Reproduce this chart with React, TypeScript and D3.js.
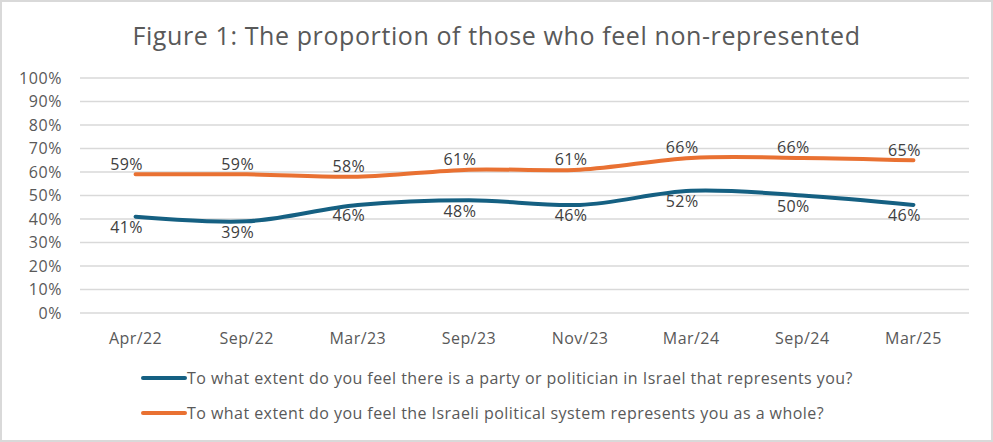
import React, { useRef, useEffect } from "react";
import * as d3 from "d3";

const categories = ["Apr/22", "Sep/22", "Mar/23", "Sep/23", "Nov/23", "Mar/24", "Sep/24", "Mar/25"];
const partyValues = [41, 39, 46, 48, 46, 52, 50, 46];
const systemValues = [59, 59, 58, 61, 61, 66, 66, 65];
const yTicks = [0, 10, 20, 30, 40, 50, 60, 70, 80, 90, 100];
const partyLabel = "To what extent do you feel there is a party or politician in Israel that represents you?";
const systemLabel = "To what extent do you feel the Israeli political system represents you as a whole?";
const title = "Figure 1: The proportion of those who feel non-represented";

const W = 993;
const H = 442;
const FONT = "'Open Sans', sans-serif";
const TEXT = "#595959";
const BLUE = "#156082";
const ORANGE = "#E97132";

const App: React.FC = () => {
    const svgRef = useRef<SVGSVGElement | null>(null);

    useEffect(() => {
        if (!svgRef.current) return;
        const svg = d3.select(svgRef.current);
        svg.selectAll("*").remove();

        const margin = { top: 78, right: 24, bottom: 129, left: 80 };

        svg.append("rect")
            .attr("x", 1).attr("y", 1)
            .attr("width", W - 2).attr("height", H - 2)
            .attr("fill", "#fff")
            .attr("stroke", "#d9d9d9")
            .attr("stroke-width", 2);

        svg.append("text")
            .attr("x", W / 2)
            .attr("y", 45)
            .attr("text-anchor", "middle")
            .attr("font-family", FONT)
            .attr("font-size", 25)
            .attr("letter-spacing", 0.6)
            .attr("fill", TEXT)
            .text(title);

        const x = d3.scaleBand()
            .domain(categories)
            .range([margin.left, W - margin.right]);
        const y = d3.scaleLinear()
            .domain([0, 100])
            .range([H - margin.bottom, margin.top]);

        // gridlines + y labels
        const grid = svg.append("g");
        grid.selectAll("line")
            .data(yTicks)
            .enter()
            .append("line")
            .attr("x1", margin.left)
            .attr("x2", W - margin.right)
            .attr("y1", (d) => y(d))
            .attr("y2", (d) => y(d))
            .attr("stroke", "#d9d9d9")
            .attr("stroke-width", 1.5);
        grid.selectAll("text")
            .data(yTicks)
            .enter()
            .append("text")
            .attr("x", 62)
            .attr("y", (d) => y(d))
            .attr("dy", "0.35em")
            .attr("text-anchor", "end")
            .attr("font-family", FONT)
            .attr("font-size", 16)
            .attr("letter-spacing", 0.6)
            .attr("fill", TEXT)
            .text((d) => `${d}%`);

        // x labels
        svg.append("g")
            .selectAll("text")
            .data(categories)
            .enter()
            .append("text")
            .attr("x", (d) => (x(d) || 0) + x.bandwidth() / 2)
            .attr("y", 338)
            .attr("dy", "0.35em")
            .attr("text-anchor", "middle")
            .attr("font-family", FONT)
            .attr("font-size", 16)
            .attr("letter-spacing", 0.45)
            .attr("fill", TEXT)
            .text((d) => d);

        const cx = (i: number) => (x(categories[i]) || 0) + x.bandwidth() / 2;
        // Excel-style smoothed line
        const line = d3.line<number>()
            .x((_, i) => cx(i))
            .y((d) => y(d))
            .curve(d3.curveCardinal.tension(0));

        const series = [
            { values: partyValues, color: BLUE, above: false },
            { values: systemValues, color: ORANGE, above: true },
        ];

        series.forEach((s) => {
            svg.append("path")
                .datum(s.values)
                .attr("d", line)
                .attr("fill", "none")
                .attr("stroke", s.color)
                .attr("stroke-width", 4)
                .attr("stroke-linecap", "round")
                .attr("stroke-linejoin", "round");

            svg.append("g")
                .selectAll("text")
                .data(s.values)
                .enter()
                .append("text")
                .attr("x", (_, i) => cx(i) - 9)
                .attr("y", (d) => y(d) + (s.above ? -4.5 : 16.5))
                .attr("text-anchor", "middle")
                .attr("font-family", FONT)
                .attr("font-size", 16)
                .attr("letter-spacing", 0.45)
                .attr("fill", "#404040")
                .text((d) => `${d}%`);
        });

        // legend
        const legend = [
            { label: partyLabel, color: BLUE, y: 378 },
            { label: systemLabel, color: ORANGE, y: 413 },
        ];
        legend.forEach((l) => {
            svg.append("line")
                .attr("x1", 143).attr("x2", 185)
                .attr("y1", l.y).attr("y2", l.y)
                .attr("stroke", l.color)
                .attr("stroke-width", 4)
                .attr("stroke-linecap", "round");
            svg.append("text")
                .attr("x", 187)
                .attr("y", l.y)
                .attr("dy", "0.35em")
                .attr("font-family", FONT)
                .attr("font-size", 16)
                .attr("letter-spacing", 0.45)
                .attr("fill", TEXT)
                .text(l.label);
        });
    }, []);

    return (
        <svg
            ref={svgRef}
            width={W}
            height={H}
            style={{ position: "absolute", left: 0, top: 0, display: "block" }}
        ></svg>
    );
};

export default App;
